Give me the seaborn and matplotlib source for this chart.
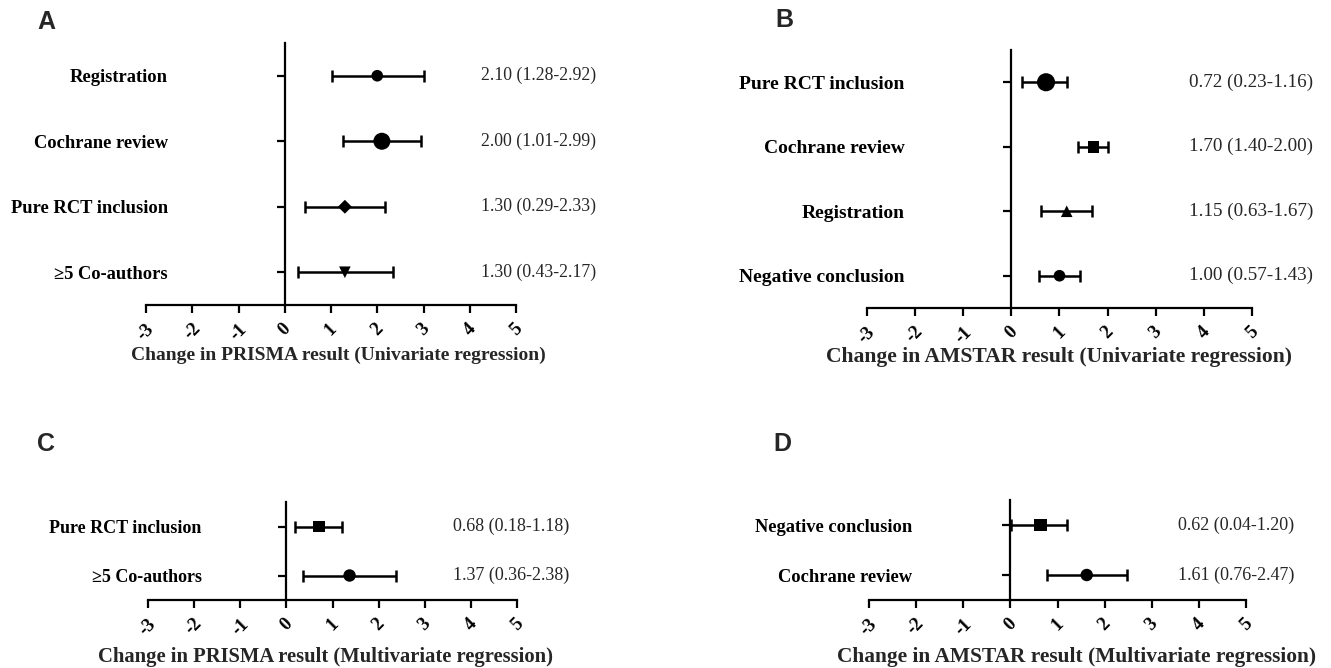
import matplotlib.pyplot as plt
import numpy as np
import pandas as pd
import seaborn as sns

sns.set_theme(style="ticks")
plt.rcParams["font.family"] = ["Liberation Serif", "DejaVu Sans"]
plt.rcParams["axes.unicode_minus"] = False

# Panel A: PRISMA, univariate
a_labels = ["Registration", "Cochrane review", "Pure RCT inclusion", "\u22655 Co-authors"]
a_est = [2.0, 2.1, 1.3, 1.3]
a_lo = [1.02, 1.27, 0.44, 0.28]
a_hi = [3.0, 2.94, 2.17, 2.35]
a_text = ["2.10 (1.28-2.92)", "2.00 (1.01-2.99)", "1.30 (0.29-2.33)", "1.30 (0.43-2.17)"]
a_markers = ["o", "o", "D", "v"]
a_sizes = [70, 150, 50, 70]

# Panel B: AMSTAR, univariate
b_labels = ["Pure RCT inclusion", "Cochrane review", "Registration", "Negative conclusion"]
b_est = [0.72, 1.71, 1.15, 1.0]
b_lo = [0.22, 1.38, 0.62, 0.57]
b_hi = [1.15, 2.01, 1.68, 1.43]
b_text = ["0.72 (0.23-1.16)", "1.70 (1.40-2.00)", "1.15 (0.63-1.67)", "1.00 (0.57-1.43)"]
b_markers = ["o", "s", "^", "o"]
b_sizes = [170, 70, 70, 70]

# Panel C: PRISMA, multivariate
c_labels = ["Pure RCT inclusion", "\u22655 Co-authors"]
c_est = [0.71, 1.37]
c_lo = [0.19, 0.36]
c_hi = [1.2, 2.38]
c_text = ["0.68 (0.18-1.18)", "1.37 (0.36-2.38)"]
c_markers = ["s", "o"]
c_sizes = [70, 80]

# Panel D: AMSTAR, multivariate
d_labels = ["Negative conclusion", "Cochrane review"]
d_est = [0.64, 1.62]
d_lo = [0.02, 0.77]
d_hi = [1.2, 2.48]
d_text = ["0.62 (0.04-1.20)", "1.61 (0.76-2.47)"]
d_markers = ["s", "o"]
d_sizes = [80, 80]

xticks = [-3, -2, -1, 0, 1, 2, 3, 4, 5]


def forest(ax, labels, est, lo, hi, text, markers, sizes, xlabel,
           fs, pad, text_x, text_fs, xl_fs, xl_pos):
    n = len(labels)
    df = pd.DataFrame({"label": labels, "est": est, "lo": lo, "hi": hi,
                       "row": np.arange(1, n + 1)})
    ax.errorbar(df["est"], df["row"],
                xerr=[df["est"] - df["lo"], df["hi"] - df["est"]],
                fmt="none", ecolor="black", elinewidth=1.8,
                capsize=4, capthick=1.8, zorder=2)
    sns.scatterplot(data=df, x="est", y="row", style="label",
                    markers=dict(zip(labels, markers)), size="label",
                    sizes=dict(zip(labels, sizes)), color="black",
                    linewidth=0, legend=False, ax=ax, zorder=3)
    for r, t in zip(df["row"], text):
        ax.text(text_x, r, t, transform=ax.get_yaxis_transform(),
                ha="left", va="center", fontsize=text_fs)
    ax.set_xlim(-3, 5)
    ax.set_ylim(n + 0.5, 0.5)
    ax.spines["left"].set_position(("data", 0))
    ax.spines["top"].set_visible(False)
    ax.spines["right"].set_visible(False)
    for s in ("left", "bottom"):
        ax.spines[s].set_linewidth(1.6)
        ax.spines[s].set_color("black")
    ax.tick_params(axis="y", length=6, width=1.6, pad=pad, colors="black")
    ax.tick_params(axis="x", length=6, width=1.6, pad=5, colors="black")
    ax.set_xticks(xticks)
    ax.set_yticks(df["row"])
    ax.set_yticklabels(labels, fontsize=fs, fontweight="bold")
    ax.set_xticklabels([str(v) for v in xticks], fontsize=13.5,
                       fontweight="bold", rotation=45)
    ax.set_xlabel(xlabel, fontsize=xl_fs, fontweight="bold")
    ax.xaxis.set_label_coords(*xl_pos)
    ax.xaxis.label.set_va("center")
    ax.set_ylabel("")


fig = plt.figure(figsize=(13.31, 6.68), dpi=100)
W, H = 1331, 668


def add_axes(x0, x1, ytop, ybot):
    return fig.add_axes([x0 / W, 1 - ybot / H, (x1 - x0) / W, (ybot - ytop) / H])


ax_a = add_axes(146, 516, 43, 305)
ax_b = add_axes(867, 1252, 50, 308)
ax_c = add_axes(148, 517, 502, 600)
ax_d = add_axes(869, 1246, 500, 600)

forest(ax_a, a_labels, a_est, a_lo, a_hi, a_text, a_markers, a_sizes,
       "Change in PRISMA result (Univariate regression)", 13.3, 78, 0.905,
       12.8, 14.0, (0.52, -0.191))
forest(ax_b, b_labels, b_est, b_lo, b_hi, b_text, b_markers, b_sizes,
       "Change in AMSTAR result (Univariate regression)", 14.0, 71, 0.836,
       13.8, 15.6, (0.50, -0.19))
forest(ax_c, c_labels, c_est, c_lo, c_hi, c_text, c_markers, c_sizes,
       "Change in PRISMA result (Multivariate regression)", 13.0, 55, 0.827,
       13.0, 14.9, (0.48, -0.58))
forest(ax_d, d_labels, d_est, d_lo, d_hi, d_text, d_markers, d_sizes,
       "Change in AMSTAR result (Multivariate regression)", 13.3, 65, 0.82,
       13.0, 15.4, (0.55, -0.57))

for x, y, letter in [(37, 10, "A"), (775, 8, "B"), (37, 432, "C"), (773, 432, "D")]:
    fig.text(x / W, 1 - y / H, letter, family="Liberation Sans",
             fontweight="bold", fontsize=18, ha="left", va="top")

fig.savefig("out.png", dpi=100)
